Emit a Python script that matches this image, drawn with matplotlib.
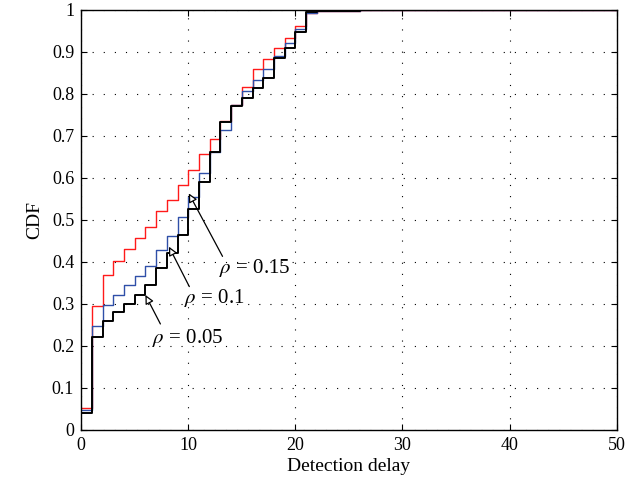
"""
# Empirical CDF of detection delay for three rho values
"""

import numpy as np
import matplotlib.pyplot as plt
from matplotlib.ticker import MultipleLocator

### Data (value holds from delay[i] to delay[i+1])
delay = list(range(0, 22)) + [22, 26, 50]
cdf_rho015 = [0.052, 0.294, 0.369, 0.403, 0.430, 0.456, 0.484, 0.520, 0.548, 0.583,
              0.619, 0.656, 0.692, 0.735, 0.774, 0.816, 0.859, 0.884, 0.910, 0.934,
              0.961, 0.993, 0.997, 0.999, 1.0]
cdf_rho01 = [0.048, 0.246, 0.298, 0.322, 0.345, 0.367, 0.390, 0.427, 0.461, 0.507,
             0.555, 0.611, 0.662, 0.714, 0.774, 0.807, 0.834, 0.860, 0.890, 0.921,
             0.955, 0.993, 0.997, 0.999, 1.0]
cdf_rho005 = [0.040, 0.221, 0.258, 0.280, 0.300, 0.321, 0.345, 0.385, 0.420, 0.464,
              0.525, 0.589, 0.662, 0.734, 0.772, 0.790, 0.814, 0.838, 0.886, 0.910,
              0.948, 0.994, 0.997, 0.999, 1.0]

yticks = [0, 0.1, 0.2, 0.3, 0.4, 0.5, 0.6, 0.7, 0.8, 0.9, 1]
ytick_labels = ['0', '0.1', '0.2', '0.3', '0.4', '0.5', '0.6', '0.7', '0.8', '0.9', '1']

labels = [r'$\rho$ = 0.15', r'$\rho$ = 0.1', r'$\rho$ = 0.05']
text_xy = [(12.9, 0.386), (9.6, 0.313), (6.6, 0.219)]
arrow_start = [(13.2, 0.413), (10.1, 0.341), (7.4, 0.252)]
arrow_tip = [(10.05, 0.563), (8.2, 0.436), (6.0, 0.321)]


def main():
    plt.rcParams['font.family'] = 'Liberation Serif'
    plt.rcParams['mathtext.fontset'] = 'stix'

    fig = plt.figure()
    fig.set_size_inches(6.39, 4.94)
    ax = fig.add_axes([0.127, 0.130, 0.838, 0.850])

    ax.step(delay, cdf_rho015, where='post', color='#ff1a1a', lw=1.0)
    ax.step(delay, cdf_rho01, where='post', color='#2f4fa8', lw=1.0)
    ax.step(delay, cdf_rho005, where='post', color='black', lw=1.4)

    for lab, txy, sxy, pxy in zip(labels, text_xy, arrow_start, arrow_tip):
        ax.text(txy[0], txy[1], lab, fontsize=15, ha='left', va='center')
        ax.annotate('', xy=pxy, xytext=sxy,
                    arrowprops=dict(arrowstyle='-|>', color='black', lw=0.9,
                                    fc='white', mutation_scale=13,
                                    shrinkA=0, shrinkB=0))

    ax.set_xlim(0, 50)
    ax.set_ylim(0, 1)
    ax.xaxis.set_major_locator(MultipleLocator(10))
    ax.set_yticks(yticks, ytick_labels)
    ax.tick_params(axis='both', direction='in', top=True, right=True, labelsize=13,
                   length=4, pad=5)
    ax.grid(True, color='black', linestyle=(0, (1, 9)), lw=0.8)
    for sp in ax.spines.values():
        sp.set_linewidth(1.0)

    ax.set_xlabel('Detection delay', fontsize=14, labelpad=3)
    ax.set_ylabel('CDF', fontsize=14, labelpad=6)

    fig.savefig('out.png', dpi=100)
    return


if __name__ == '__main__':
    main()
